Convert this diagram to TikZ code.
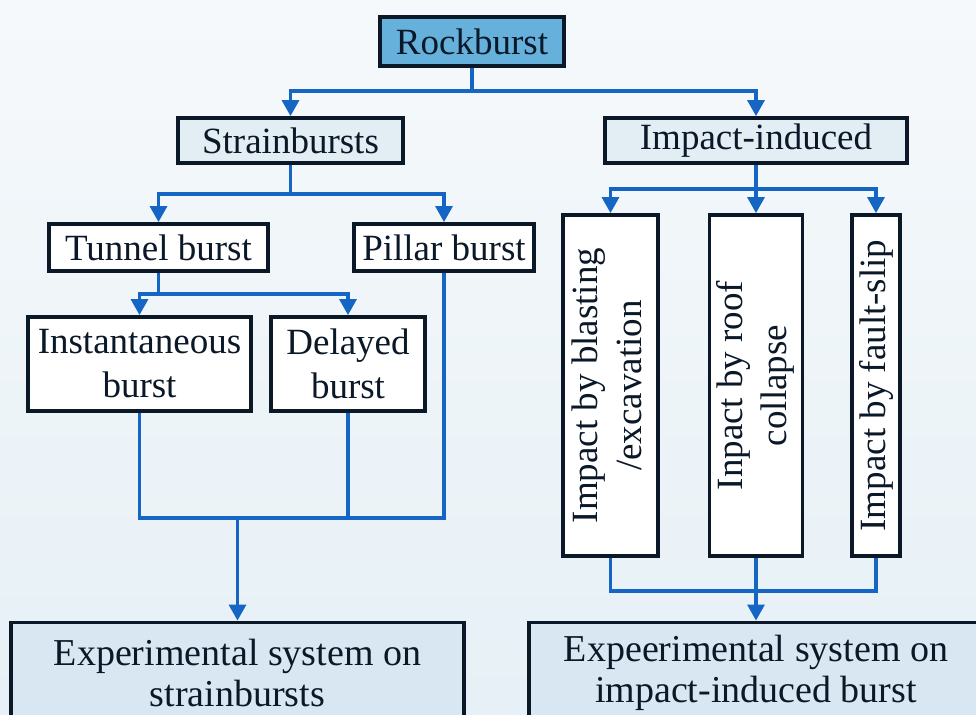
\documentclass[tikz,border=0pt]{standalone}
\usepackage{fontspec}
\setmainfont{Liberation Serif}
\usetikzlibrary{arrows.meta}
\definecolor{bgtop}{HTML}{F6F9FB}
\definecolor{bgbot}{HTML}{E6F0F6}
\definecolor{ink}{HTML}{0A1828}
\definecolor{linec}{HTML}{1565C4}
\definecolor{rockfill}{HTML}{66B0DC}
\definecolor{lightfill}{HTML}{E2EDF4}
\definecolor{expfill}{HTML}{D8E7F1}
\begin{document}
\begin{tikzpicture}[x=0.5pt,y=-0.5pt,
  box/.style={draw=ink, line width=1.9pt, fill=white, text=ink, inner sep=0pt,
    align=center, font=\fontsize{18.5}{22}\selectfont},
  expbox/.style={box, fill=expfill, minimum width=227pt, minimum height=50.5pt,
    font=\fontsize{19}{20.5}\selectfont},
  vbox/.style={box, minimum height=170.5pt},
  conn/.style={draw=linec, line width=1.6pt},
  arr/.style={conn, -{Triangle[width=8.5pt,length=8pt]}},
]
\shade[top color=bgtop, bottom color=bgbot] (0,0) rectangle (976,715);
\useasboundingbox (0,0) rectangle (976,715);

% nodes
\node[box, fill=rockfill, minimum width=92pt, minimum height=24.5pt] (rock) at (472,41.5) {Rockburst};
\node[box, fill=lightfill, minimum width=112.5pt, minimum height=22.5pt] (strain) at (290.5,140.5) {Strainbursts};
\node[box, fill=lightfill, minimum width=151pt, minimum height=22.5pt] (impact) at (756,140.5) {Impact-induced};
\node[box, minimum width=109.5pt, minimum height=23.5pt] (tunnel) at (158.5,247.5) {Tunnel burst};
\node[box, minimum width=90pt, minimum height=23.5pt] (pillar) at (444,247.5) {Pillar burst};
\node[box, minimum width=111.5pt, minimum height=47pt] (inst) at (139.5,364) {Instantaneous\\burst};
\node[box, minimum width=77pt, minimum height=47pt] (delay) at (348,364) {Delayed\\burst};
\node[vbox, minimum width=47.5pt] (v1) at (610.5,385.5)
  {\rotatebox{90}{\begin{tabular}{@{}c@{}}Impact by blasting\\/excavation\end{tabular}}};
\node[vbox, minimum width=46.5pt] (v2) at (756,385.5)
  {\rotatebox{90}{\begin{tabular}{@{}c@{}}Inpact by roof\\collapse\end{tabular}}};
\node[vbox, minimum width=24pt] (v3) at (876,385.5)
  {\rotatebox{90}{Impact by fault-slip}};
\node[expbox, minimum width=226.5pt] (exp1) at (237.5,673) {Experimental system on\\strainbursts};
\node[expbox] (exp2) at (756,673) {Expeerimental system on\\impact-induced burst};

% connectors
\coordinate (j1) at (472,91);
\draw[conn] (rock.south) -- (j1);
\draw[arr] (j1) -| (strain.north);
\draw[arr] (j1) -| (impact.north);

\coordinate (j2) at (290.5,194);
\draw[conn] (strain.south) -- (j2);
\draw[arr] (j2) -| (tunnel.north);
\draw[arr] (j2) -| (pillar.north);

\coordinate (j3) at (158.5,294);
\draw[conn] (tunnel.south) -- (j3);
\draw[arr] (j3) -| (inst.north);
\draw[arr] (j3) -| (delay.north);

\coordinate (j4) at (237.5,518);
\draw[conn] (inst.south) |- (j4) -| (pillar.south);
\draw[conn] (delay.south) -- (delay.south |- j4);
\draw[arr] (j4) -- (exp1.north);

\coordinate (j5) at (756,189);
\draw[conn] (impact.south) -- (j5);
\draw[arr] (j5) -| (v1.north);
\draw[arr] (j5) -- (v2.north);
\draw[arr] (j5) -| (v3.north);

\coordinate (j6) at (756,591);
\draw[conn] (v1.south) |- (j6) -| (v3.south);
\draw[conn] (v2.south) -- (j6);
\draw[arr] (j6) -- (exp2.north);
\end{tikzpicture}
\end{document}
